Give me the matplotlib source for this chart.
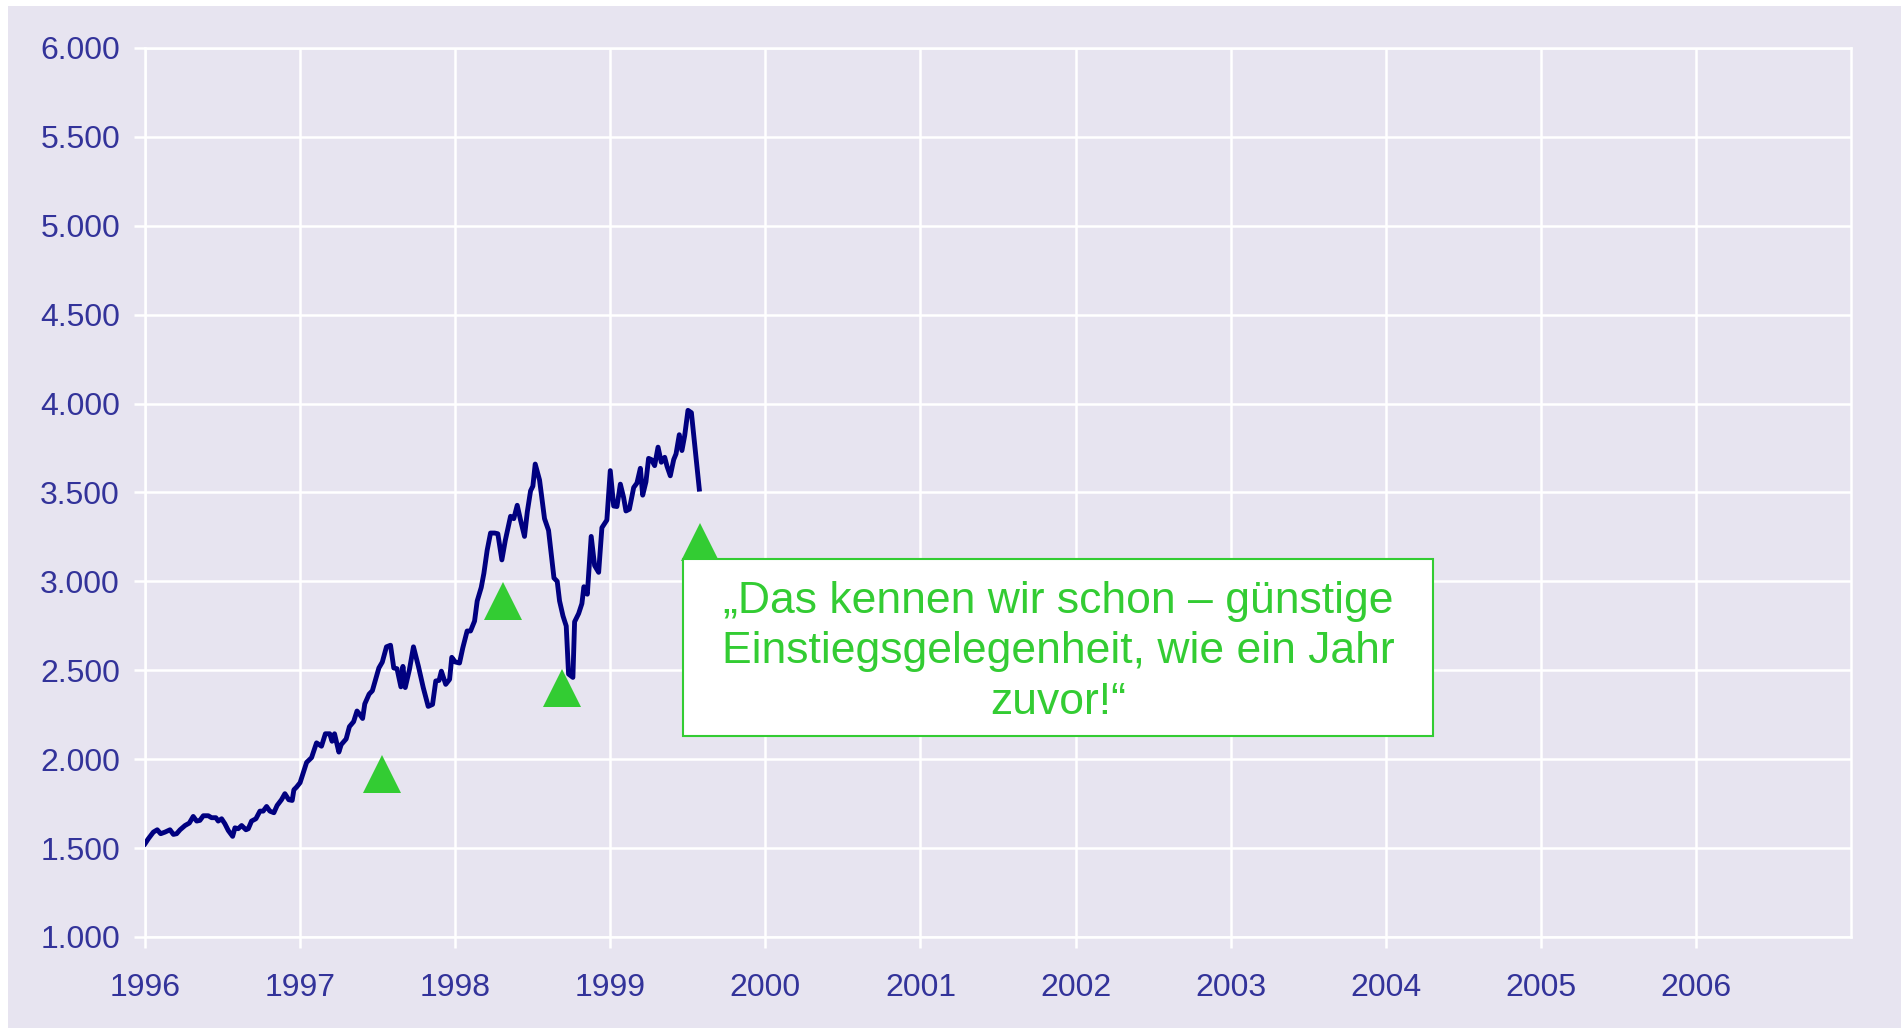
import matplotlib.pyplot as plt
from matplotlib.patches import Rectangle
from matplotlib.ticker import FuncFormatter

# index values (decimal year, index level)
dates = [
    1996.000, 1996.021, 1996.054, 1996.079, 1996.101, 1996.129, 1996.161, 1996.183,
    1996.204, 1996.226, 1996.258, 1996.286, 1996.311, 1996.333, 1996.354, 1996.376,
    1996.408, 1996.429, 1996.457, 1996.472, 1996.494, 1996.515, 1996.537, 1996.565,
    1996.580, 1996.601, 1996.623, 1996.651, 1996.666, 1996.687, 1996.715, 1996.741,
    1996.762, 1996.784, 1996.805, 1996.831, 1996.852, 1996.880, 1996.902, 1996.927,
    1996.949, 1996.960, 1996.977, 1997.000, 1997.015, 1997.042, 1997.074, 1997.106,
    1997.138, 1997.163, 1997.191, 1997.206, 1997.222, 1997.250, 1997.265, 1997.297,
    1997.318, 1997.345, 1997.367, 1997.381, 1997.403, 1997.417, 1997.445, 1997.466,
    1997.487, 1997.508, 1997.530, 1997.557, 1997.583, 1997.604, 1997.625, 1997.650,
    1997.663, 1997.678, 1997.705, 1997.731, 1997.763, 1997.794, 1997.826, 1997.854,
    1997.875, 1997.896, 1997.911, 1997.939, 1997.964, 1997.978, 1998.000, 1998.028,
    1998.049, 1998.077, 1998.099, 1998.125, 1998.142, 1998.168, 1998.185, 1998.206,
    1998.228, 1998.254, 1998.275, 1998.301, 1998.323, 1998.357, 1998.378, 1998.400,
    1998.422, 1998.447, 1998.465, 1998.486, 1998.501, 1998.516, 1998.544, 1998.576,
    1998.602, 1998.637, 1998.658, 1998.673, 1998.695, 1998.716, 1998.731, 1998.759,
    1998.770, 1998.796, 1998.817, 1998.830, 1998.852, 1998.877, 1998.899, 1998.925,
    1998.946, 1998.978, 1999.000, 1999.022, 1999.043, 1999.065, 1999.086, 1999.101,
    1999.123, 1999.151, 1999.172, 1999.194, 1999.209, 1999.230, 1999.247, 1999.265,
    1999.286, 1999.308, 1999.329, 1999.351, 1999.366, 1999.387, 1999.409, 1999.424,
    1999.445, 1999.462, 1999.480, 1999.501, 1999.523, 1999.548, 1999.574,
]
values = [
    1524, 1552, 1590, 1603, 1581, 1590, 1603, 1577,
    1581, 1603, 1627, 1641, 1678, 1652, 1656, 1682,
    1682, 1671, 1671, 1652, 1665, 1637, 1599, 1566,
    1614, 1609, 1627, 1603, 1609, 1652, 1665, 1708,
    1708, 1734, 1708, 1699, 1740, 1772, 1806, 1772,
    1768, 1828, 1843, 1868, 1908, 1982, 2009, 2092,
    2073, 2143, 2143, 2101, 2143, 2040, 2082, 2114,
    2183, 2211, 2271, 2256, 2229, 2311, 2366, 2385,
    2449, 2513, 2546, 2632, 2641, 2513, 2509, 2407,
    2522, 2403, 2504, 2632, 2522, 2403, 2297, 2308,
    2440, 2443, 2495, 2421, 2449, 2573, 2547, 2541,
    2626, 2721, 2721, 2777, 2890, 2966, 3045, 3174,
    3272, 3272, 3268, 3121, 3230, 3366, 3353, 3428,
    3343, 3253, 3391, 3509, 3536, 3660, 3570, 3353,
    3287, 3019, 3000, 2890, 2806, 2749, 2479, 2460,
    2773, 2819, 2875, 2970, 2928, 3253, 3089, 3051,
    3302, 3345, 3623, 3424, 3421, 3547, 3472, 3396,
    3406, 3528, 3553, 3636, 3485, 3560, 3692, 3685,
    3651, 3755, 3670, 3698, 3647, 3594, 3685, 3717,
    3825, 3736, 3821, 3962, 3949, 3736, 3519,
]

# green "buy" markers
signal_x = [1997.53, 1998.31, 1998.69, 1999.58]
signal_y = [1917, 2890, 2403, 3222]

years = list(range(1996, 2007))
y_ticks = list(range(1000, 6001, 500))
quote = "„Das kennen wir schon – günstige\nEinstiegsgelegenheit, wie ein Jahr\nzuvor!“"

bg = "#e7e4f0"
label_col = "#33339a"
green = "#33cc33"

plt.rcParams["font.family"] = ["Liberation Sans", "DejaVu Sans"]

fig = plt.figure(figsize=(19.01, 10.28), dpi=100)
fig.patch.set_facecolor("white")
fig.patches.append(
    Rectangle((8 / 1901, 0), 1, 1 - 6 / 1028, transform=fig.transFigure,
              facecolor=bg, edgecolor="none", zorder=-10)
)

ax = fig.add_axes([145 / 1901, 91 / 1028, 1706 / 1901, 889 / 1028])
ax.set_facecolor(bg)

ax.plot(dates, values, color="#000080", linewidth=3.5, zorder=3)
ax.plot(signal_x, signal_y, linestyle="none", marker="^", markersize=28,
        color=green, markeredgewidth=0, zorder=4)

# quote box
ax.add_patch(Rectangle((1999.467, 2131), 4.838, 995, facecolor="white",
                       edgecolor=green, linewidth=1.5, zorder=5))
ax.text(2001.886, 2605, quote, ha="center", va="center", fontsize=32,
        color=green, linespacing=1.3, zorder=6)

ax.set_xlim(1996, 2007)
ax.set_ylim(1000, 6000)
ax.set_xticks(years)
ax.set_yticks(y_ticks)
ax.yaxis.set_major_formatter(FuncFormatter(lambda v, p: f"{v:,.0f}".replace(",", ".")))

ax.grid(True, color="white", linewidth=1.8, zorder=1)
ax.set_axisbelow(True)
for s in ax.spines.values():
    s.set_color("white")
    s.set_linewidth(1.8)

ax.tick_params(axis="both", colors="white", labelcolor=label_col, labelsize=23,
               length=8, width=1.8)
ax.tick_params(axis="y", pad=10)
ax.tick_params(axis="x", pad=18)

fig.savefig("out.png", dpi=100)
